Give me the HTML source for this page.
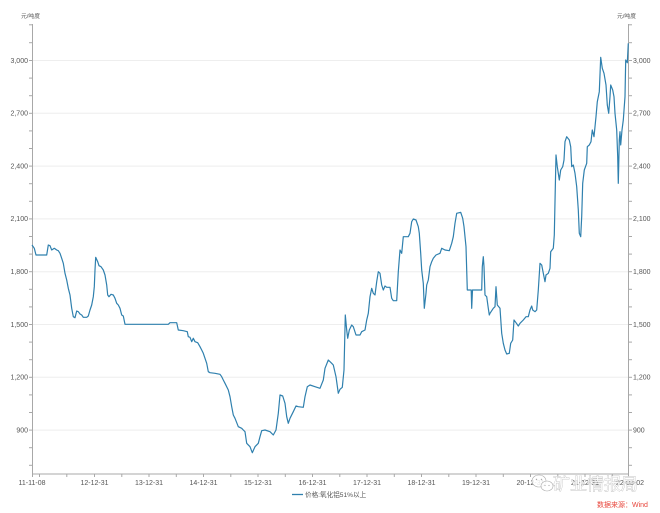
<!DOCTYPE html>
<html><head><meta charset="utf-8"><style>
html,body{margin:0;padding:0;background:#fff;}
svg{display:block;}
text{font-family:"Liberation Sans","Noto Sans CJK SC",sans-serif;}
</style></head><body>
<svg width="660" height="513" viewBox="0 0 660 513" xmlns="http://www.w3.org/2000/svg">
<rect width="660" height="513" fill="#fff"/>
<!-- gridlines -->
<g stroke="#eeeeee" stroke-width="1">
<line x1="33" y1="60.5" x2="628" y2="60.5"/>
<line x1="33" y1="113.3" x2="628" y2="113.3"/>
<line x1="33" y1="166.1" x2="628" y2="166.1"/>
<line x1="33" y1="218.9" x2="628" y2="218.9"/>
<line x1="33" y1="271.7" x2="628" y2="271.7"/>
<line x1="33" y1="324.5" x2="628" y2="324.5"/>
<line x1="33" y1="377.3" x2="628" y2="377.3"/>
<line x1="33" y1="430.1" x2="628" y2="430.1"/>
</g>
<!-- axes -->
<g stroke="#a8a8a8" stroke-width="1" fill="none">
<line x1="32.5" y1="24" x2="32.5" y2="474"/>
<line x1="628.5" y1="24" x2="628.5" y2="474"/>
<line x1="32.5" y1="474" x2="628.5" y2="474"/>
</g>
<!-- y ticks -->
<g stroke="#a8a8a8" stroke-width="1">
<line x1="29" y1="24.8" x2="32.5" y2="24.8"/><line x1="628.5" y1="24.8" x2="632" y2="24.8"/>
<line x1="29" y1="42.7" x2="32.5" y2="42.7"/><line x1="628.5" y1="42.7" x2="632" y2="42.7"/>
<line x1="29" y1="60.5" x2="32.5" y2="60.5"/><line x1="628.5" y1="60.5" x2="632" y2="60.5"/>
<line x1="29" y1="78.1" x2="32.5" y2="78.1"/><line x1="628.5" y1="78.1" x2="632" y2="78.1"/>
<line x1="29" y1="95.7" x2="32.5" y2="95.7"/><line x1="628.5" y1="95.7" x2="632" y2="95.7"/>
<line x1="29" y1="113.3" x2="32.5" y2="113.3"/><line x1="628.5" y1="113.3" x2="632" y2="113.3"/>
<line x1="29" y1="130.9" x2="32.5" y2="130.9"/><line x1="628.5" y1="130.9" x2="632" y2="130.9"/>
<line x1="29" y1="148.5" x2="32.5" y2="148.5"/><line x1="628.5" y1="148.5" x2="632" y2="148.5"/>
<line x1="29" y1="166.1" x2="32.5" y2="166.1"/><line x1="628.5" y1="166.1" x2="632" y2="166.1"/>
<line x1="29" y1="183.7" x2="32.5" y2="183.7"/><line x1="628.5" y1="183.7" x2="632" y2="183.7"/>
<line x1="29" y1="201.3" x2="32.5" y2="201.3"/><line x1="628.5" y1="201.3" x2="632" y2="201.3"/>
<line x1="29" y1="218.9" x2="32.5" y2="218.9"/><line x1="628.5" y1="218.9" x2="632" y2="218.9"/>
<line x1="29" y1="236.5" x2="32.5" y2="236.5"/><line x1="628.5" y1="236.5" x2="632" y2="236.5"/>
<line x1="29" y1="254.1" x2="32.5" y2="254.1"/><line x1="628.5" y1="254.1" x2="632" y2="254.1"/>
<line x1="29" y1="271.7" x2="32.5" y2="271.7"/><line x1="628.5" y1="271.7" x2="632" y2="271.7"/>
<line x1="29" y1="289.3" x2="32.5" y2="289.3"/><line x1="628.5" y1="289.3" x2="632" y2="289.3"/>
<line x1="29" y1="306.9" x2="32.5" y2="306.9"/><line x1="628.5" y1="306.9" x2="632" y2="306.9"/>
<line x1="29" y1="324.5" x2="32.5" y2="324.5"/><line x1="628.5" y1="324.5" x2="632" y2="324.5"/>
<line x1="29" y1="342.1" x2="32.5" y2="342.1"/><line x1="628.5" y1="342.1" x2="632" y2="342.1"/>
<line x1="29" y1="359.7" x2="32.5" y2="359.7"/><line x1="628.5" y1="359.7" x2="632" y2="359.7"/>
<line x1="29" y1="377.3" x2="32.5" y2="377.3"/><line x1="628.5" y1="377.3" x2="632" y2="377.3"/>
<line x1="29" y1="394.9" x2="32.5" y2="394.9"/><line x1="628.5" y1="394.9" x2="632" y2="394.9"/>
<line x1="29" y1="412.5" x2="32.5" y2="412.5"/><line x1="628.5" y1="412.5" x2="632" y2="412.5"/>
<line x1="29" y1="430.1" x2="32.5" y2="430.1"/><line x1="628.5" y1="430.1" x2="632" y2="430.1"/>
<line x1="29" y1="447.7" x2="32.5" y2="447.7"/><line x1="628.5" y1="447.7" x2="632" y2="447.7"/>
<line x1="29" y1="465.3" x2="32.5" y2="465.3"/><line x1="628.5" y1="465.3" x2="632" y2="465.3"/>
</g>
<!-- x ticks -->
<g stroke="#a8a8a8" stroke-width="1">
<line x1="32.5" y1="474" x2="32.5" y2="477"/>
<line x1="39.5" y1="474" x2="39.5" y2="477"/>
<line x1="66.8" y1="474" x2="66.8" y2="477"/>
<line x1="94.5" y1="474" x2="94.5" y2="477"/>
<line x1="121.8" y1="474" x2="121.8" y2="477"/>
<line x1="149" y1="474" x2="149" y2="477"/>
<line x1="176.3" y1="474" x2="176.3" y2="477"/>
<line x1="203.5" y1="474" x2="203.5" y2="477"/>
<line x1="230.8" y1="474" x2="230.8" y2="477"/>
<line x1="258" y1="474" x2="258" y2="477"/>
<line x1="285.3" y1="474" x2="285.3" y2="477"/>
<line x1="312.5" y1="474" x2="312.5" y2="477"/>
<line x1="339.8" y1="474" x2="339.8" y2="477"/>
<line x1="367" y1="474" x2="367" y2="477"/>
<line x1="394.3" y1="474" x2="394.3" y2="477"/>
<line x1="421.5" y1="474" x2="421.5" y2="477"/>
<line x1="448.8" y1="474" x2="448.8" y2="477"/>
<line x1="476" y1="474" x2="476" y2="477"/>
<line x1="503.3" y1="474" x2="503.3" y2="477"/>
<line x1="530.5" y1="474" x2="530.5" y2="477"/>
<line x1="557.8" y1="474" x2="557.8" y2="477"/>
<line x1="585" y1="474" x2="585" y2="477"/>
<line x1="612.3" y1="474" x2="612.3" y2="477"/>
<line x1="628.5" y1="474" x2="628.5" y2="477"/>
</g>
<!-- y labels -->
<g font-size="7" fill="#555" text-anchor="end">
<text x="28" y="62.8">3,000</text>
<text x="28" y="115.6">2,700</text>
<text x="28" y="168.4">2,400</text>
<text x="28" y="221.2">2,100</text>
<text x="28" y="274">1,800</text>
<text x="28" y="326.8">1,500</text>
<text x="28" y="379.6">1,200</text>
<text x="28" y="432.4">900</text>
</g>
<g font-size="7" fill="#555" text-anchor="start">
<text x="633" y="62.8">3,000</text>
<text x="633" y="115.6">2,700</text>
<text x="633" y="168.4">2,400</text>
<text x="633" y="221.2">2,100</text>
<text x="633" y="274">1,800</text>
<text x="633" y="326.8">1,500</text>
<text x="633" y="379.6">1,200</text>
<text x="633" y="432.4">900</text>
</g>
<text x="21" y="18" font-size="5.8" fill="#555">元/吨度</text>
<text x="617" y="18" font-size="5.8" fill="#555">元/吨度</text>
<!-- x labels -->
<g font-size="7" fill="#555" text-anchor="middle">
<text x="32" y="485">11-11-08</text>
<text x="94.5" y="485">12-12-31</text>
<text x="149" y="485">13-12-31</text>
<text x="203.5" y="485">14-12-31</text>
<text x="258" y="485">15-12-31</text>
<text x="312.5" y="485">16-12-31</text>
<text x="367" y="485">17-12-31</text>
<text x="421.5" y="485">18-12-31</text>
<text x="476" y="485">19-12-31</text>
<text x="530.5" y="485">20-12-31</text>
<text x="585" y="485">21-12-31</text>
<text x="630" y="485">22-03-02</text>
</g>
<!-- series -->
<polyline fill="none" stroke="#2f80ae" stroke-width="1.2" stroke-linejoin="round" points="32,245 34.3,248.3 36,255 46.7,255 48.3,245 50,245.7 51.7,250 54.3,248.3 56.7,250 58.3,250.7 60,253.3 61.7,258.3 63.3,263.3 65,273.3 66.7,280 68.3,288.3 70,295 71.7,308.3 73.3,316.7 75,317.7 76.7,311 78.3,311.7 80,314 81.7,315 83.3,317.3 86.7,317.3 88.3,316 90,310 91.7,305 93.3,296.7 94.3,286.7 95,270 95.7,257.3 97.7,261.7 99,265.7 101,266.7 103.3,270 105,275 106.7,285 107.7,295 109,296.7 111,294.3 113.3,295 115,298.3 116.7,303.3 118.3,305 120,308.3 121.7,315 123.3,316 125,324.3 168.3,324.3 170,322.7 176.7,322.7 178.3,330 183.3,330.7 187.3,331.7 188.3,336.7 190,337.3 191.7,341.7 193.3,338.3 195,341.7 197.7,342.7 200,346.7 201.7,350 203.3,353.3 205,358.3 206.7,363.3 208.3,371.7 210,372.7 215,373.3 220,374.3 221.7,376.7 223.3,380 225,383.3 228.3,390 230,396.7 231.7,406.7 233.3,415 235,418.3 238.3,426.7 241.7,428.3 243.3,430 245,431.7 246.7,443.3 250,446.7 252.3,452.7 255,446.7 258.3,443.3 260,436.7 261.7,430.7 265,430 270,431.7 273.3,435 276,430 278.3,413.3 280,395 282.7,396 285,403.3 286.7,416.7 288.3,423.3 290,418.3 293.3,411.7 296,406 298.3,406.7 303.3,407.3 305,396.7 307.3,386.7 310,385 315,386.7 320,388.3 323.3,380 325,368.3 328.3,360 331.7,363.3 333.3,365 336,376.7 338.3,393.3 340,389.3 342.3,387.3 344,370 345.3,315 346.7,330 347.7,338.3 349.3,330 351.7,325 353.3,326.7 356,335 360,335 361.7,331.7 365,330 366.7,320 368.3,313.3 370,296.7 371.7,288.3 373.3,293.3 375,295 376.7,281.7 378.3,271.7 380,273.3 381.7,285 383.3,290 385,286 386.7,287.3 390,287.3 391.7,298.3 393.3,300.7 396.7,300.7 398.3,271.7 400,250 401.7,253.3 403.3,236.7 408.3,236.7 410,233.3 411.7,221.7 413.3,219 416,220 418.3,226.7 419.3,233.3 420.7,253.3 421.7,270 423.3,283.3 424.3,308.3 426,293.3 426.7,285 428.3,280 430,266.7 431.7,261.7 433.3,258.3 436,255 440,253.3 441.7,248.3 445,250 449.3,250.7 451.7,243.3 453.3,236.7 455,223.3 456.7,213.3 460.7,212.3 462.7,218.3 464,226.7 466,246.7 467.3,290 471.2,290 471.7,308.3 472.5,290 481.7,290 482.3,266.7 483.3,256.7 484,266.7 485,295 486.7,296.7 488.3,308.3 489.3,315 490,313.3 493.3,308.3 495,306.7 496,286.7 497.3,305 500,308.3 501.7,333.3 503.3,343.3 505,350 506.7,354 509.3,353.3 510.7,343.3 512.7,340 514,320 516,322.7 518.3,326 520,323.3 523.3,320 526,316.7 528.3,316.7 530,310 531.7,306 532.7,310 535,311.7 536.7,310 538.3,290 540,263.3 541.7,265 543.3,273.3 545,281.7 546,275 548.3,273.3 550,268.3 550.7,251.7 553.3,248.3 554.3,235 555,201.7 556,155 557.3,166.7 559.3,180 560.7,170 562.7,166.7 564,160 565,141.7 566.7,136.7 569.3,140 570.7,146.7 571.7,166.7 573.3,165 575,173.3 576.7,186.7 578.3,210 579.3,233.3 580.7,236.7 581.7,216.7 582.7,183.3 584.3,170 586.7,163.3 587.3,146.7 589.3,145 591,141.7 592.3,130 594,136.7 596,116.7 597.3,101.7 599.3,91.7 600.7,57.3 602.3,68.3 604,73.3 606,85 607.3,105 608.7,113.3 610,96.7 610.7,85 612.7,90 614,96.7 615,113.3 616.7,130 617.7,156.7 618.3,183.3 619.3,140 620,131.7 620.7,145 622,130 623.3,120 625,96.7 625.7,60 627.3,62.7 628.3,43.3"/>
<!-- legend -->
<line x1="292" y1="494.5" x2="303" y2="494.5" stroke="#2f80ae" stroke-width="1.3"/>
<text x="305" y="497" font-size="6.6" fill="#555">价格:氧化铝51%以上</text>
<!-- watermark -->
<g fill="#ffffff" fill-opacity="0.85" stroke="#aaaaaa" stroke-width="0.6">
<ellipse cx="539" cy="481" rx="7" ry="6"/>
<ellipse cx="547" cy="486" rx="6" ry="5"/>
</g>
<g fill="#aaaaaa">
<circle cx="536.5" cy="479.5" r="0.7"/><circle cx="541.5" cy="479.5" r="0.7"/>
<circle cx="545" cy="485.5" r="0.6"/><circle cx="549" cy="485.5" r="0.6"/>
</g>
<text x="553" y="490" font-size="17" fill="#ffffff" fill-opacity="0.75" stroke="#a5a5a5" stroke-width="0.45" style="paint-order:stroke">矿业情报局</text>
<text x="597" y="507" font-size="7" fill="#e8463c">数据来源：Wind</text>
</svg>
</body></html>
